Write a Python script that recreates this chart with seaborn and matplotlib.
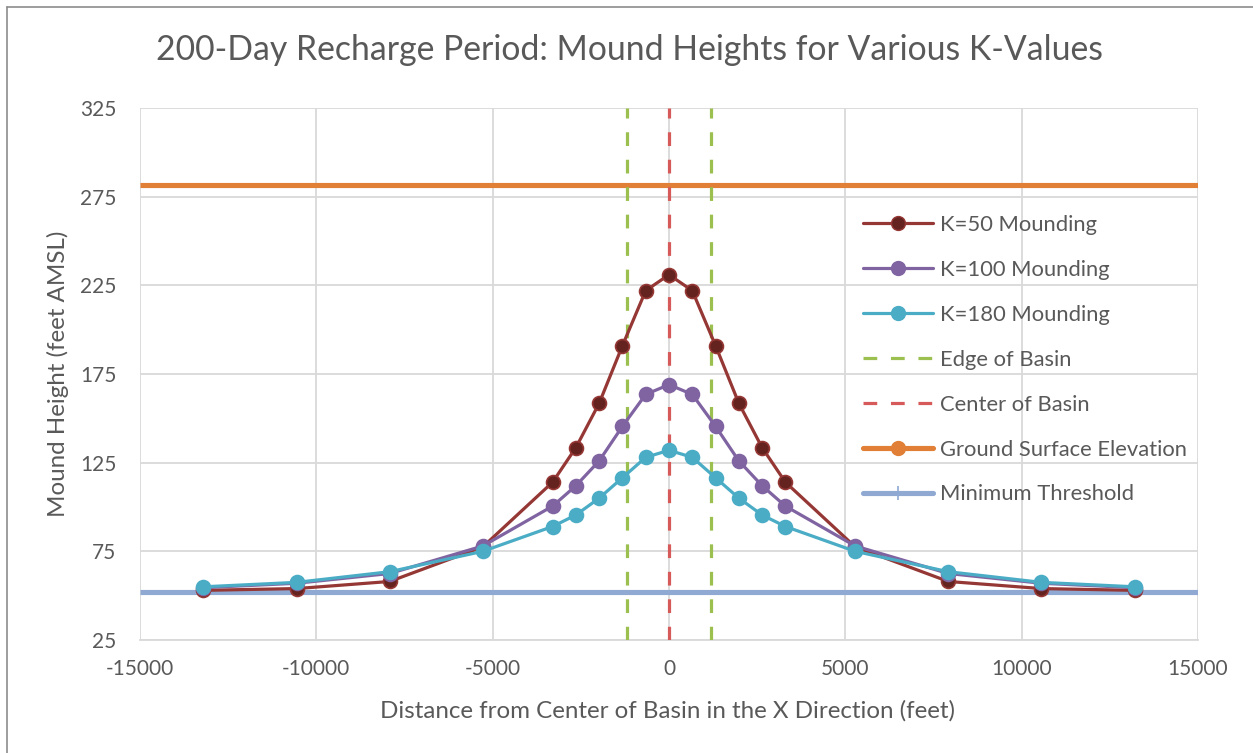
import numpy as np
import pandas as pd
import matplotlib
matplotlib.use("Agg")
import matplotlib.pyplot as plt
from matplotlib.lines import Line2D
import seaborn as sns

# Distance from basin center (feet)
distance = [-13200, -10560, -7920, -5280, -3300, -2640, -1980, -1320, -660, 0,
            660, 1320, 1980, 2640, 3300, 5280, 7920, 10560, 13200]

# Mound heights (feet AMSL) for each hydraulic conductivity
k50 = [53, 54, 58, 77.5, 114, 133.5, 158.5, 191, 222, 231,
       222, 191, 158.5, 133.5, 114, 77.5, 58, 54, 53]
k100 = [54.5, 57, 62.5, 78, 100.5, 112, 126, 145.5, 163.5, 169,
        163.5, 145.5, 126, 112, 100.5, 78, 62.5, 57, 54.5]
k180 = [55, 57.5, 63.5, 75, 89, 95.5, 105, 116.5, 128, 132,
        128, 116.5, 105, 95.5, 89, 75, 63.5, 57.5, 55]

basin_edges = [-1200, 1200]
basin_center = 0
ground_surface = 281.5
minimum_threshold = 52
x_extent = [-15000, 15000]

series_names = ["K=50 Mounding", "K=100 Mounding", "K=180 Mounding"]

sns.set_theme(style="white")
plt.rcParams["font.family"] = ["Lato", "DejaVu Sans"]
plt.rcParams["axes.unicode_minus"] = False

text_gray = "#595959"
grid_gray = "#d9d9d9"

df = pd.DataFrame({
    "x": distance * 3,
    "y": k50 + k100 + k180,
    "series": [series_names[0]] * len(distance)
              + [series_names[1]] * len(distance)
              + [series_names[2]] * len(distance),
})

W, H = 1253, 753
fig = plt.figure(figsize=(W / 100, H / 100), dpi=100)
ax = fig.add_axes([140 / W, 1 - 640 / H, (1198 - 140) / W, (640 - 108) / H])

# Reference levels
ax.plot(x_extent, [ground_surface] * 2, color="#E07F35", lw=3.7, zorder=3,
        solid_capstyle="butt")
ax.plot(x_extent, [minimum_threshold] * 2, color="#8FA9D3", lw=3.7, zorder=2,
        solid_capstyle="butt")

# Basin edge and centre markers
for xe in basin_edges:
    ax.plot([xe, xe], [25, 325], color="#9BC04F", lw=2.3, dashes=(4.3, 4.3), zorder=4)
ax.plot([basin_center, basin_center], [25, 325], color="#D65A5A", lw=2.3,
        dashes=(4.3, 4.3), zorder=5)

line_colors = {
    series_names[0]: "#953734",
    series_names[1]: "#8064A2",
    series_names[2]: "#4BACC6",
}
face_colors = {
    series_names[0]: "#652320",
    series_names[1]: "#8064A2",
    series_names[2]: "#4BACC6",
}

for name in series_names:
    sub = df[df["series"] == name]
    sns.lineplot(data=sub, x="x", y="y", ax=ax, color=line_colors[name], lw=2.3,
                 marker="o", markersize=10, markerfacecolor=face_colors[name],
                 markeredgecolor=line_colors[name], markeredgewidth=1.2,
                 sort=False, legend=False, zorder=6)

ax.set_xlim(-15000, 15000)
ax.set_ylim(25, 325)
ax.set_xticks(np.arange(-15000, 15001, 5000))
ax.set_yticks(np.arange(25, 326, 50))
ax.grid(True, color=grid_gray, lw=1.3)
ax.set_axisbelow(True)
for side in ["top", "right", "left"]:
    ax.spines[side].set_visible(False)
ax.spines["bottom"].set_color(grid_gray)
ax.spines["bottom"].set_linewidth(1.3)
ax.tick_params(axis="both", length=0, colors=text_gray, labelsize=15)
ax.tick_params(axis="x", pad=14)
ax.tick_params(axis="y", pad=17)

ax.set_xlabel("Distance from Center of Basin in the X Direction (feet)",
              fontsize=17.4, color=text_gray)
ax.set_ylabel("Mound Height (feet AMSL)", fontsize=17.4, color=text_gray)
ax.xaxis.label.set_va("center")
ax.yaxis.label.set_va("center")
ax.xaxis.set_label_coords((667 - 140) / 1058, (640 - 711) / 532)
ax.yaxis.set_label_coords((58 - 140) / 1058, (640 - 374) / 532)

fig.text(630 / W, 1 - 50 / H,
         "200-Day Recharge Period: Mound Heights for Various K-Values",
         ha="center", va="center", fontsize=24.3, color=text_gray)

handles = [
    Line2D([], [], color=line_colors[n], lw=2.3, marker="o", markersize=10,
           markerfacecolor=face_colors[n], markeredgecolor=line_colors[n])
    for n in series_names
] + [
    Line2D([], [], color="#9BC04F", lw=2.3, dashes=(4.3, 4.3)),
    Line2D([], [], color="#D65A5A", lw=2.3, dashes=(4.3, 4.3)),
    Line2D([], [], color="#E07F35", lw=3.7, marker="o", markersize=10),
    Line2D([], [], color="#8FA9D3", lw=3.7, marker="|", markersize=10,
           markeredgewidth=1.2),
]
labels = series_names + ["Edge of Basin", "Center of Basin",
                         "Ground Surface Elevation", "Minimum Threshold"]
ax.legend(handles, labels, loc="upper left",
          bbox_to_anchor=((863 - 140) / 1058, (640 - 215) / 532),
          frameon=False, fontsize=15.8, labelcolor=text_gray,
          handlelength=3.2, handletextpad=0.3, labelspacing=1.135,
          borderaxespad=0, borderpad=0)

# Chart-area outline (top and left edges within the canvas)
fig.add_artist(Line2D([7 / W, 1.0], [1 - 7 / H] * 2, transform=fig.transFigure,
                      color="#8c8c8c", lw=1.2))
fig.add_artist(Line2D([7 / W] * 2, [0.0, 1 - 7 / H], transform=fig.transFigure,
                      color="#8c8c8c", lw=1.2))

fig.savefig("out.png", dpi=100)
